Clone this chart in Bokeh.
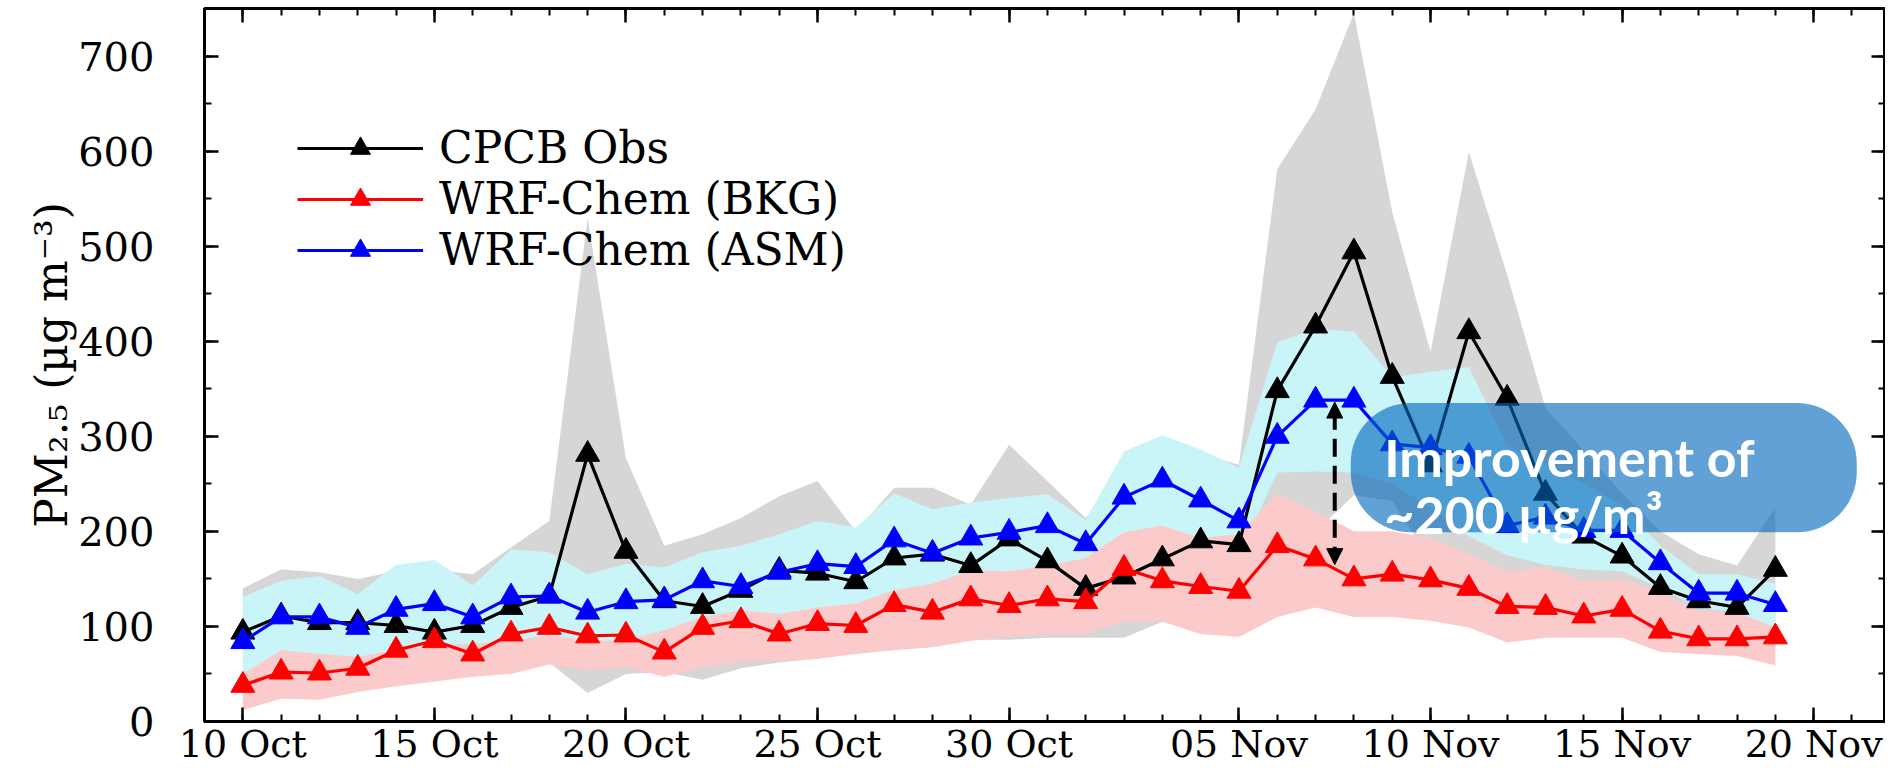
import pandas as pd
from bokeh.plotting import figure
from bokeh.models import (ColumnDataSource, Range1d, LinearAxis, DatetimeAxis, FixedTicker,
                          SingleIntervalTicker, DatetimeTickFormatter, Legend, LegendItem,
                          BoxAnnotation, Label, Arrow, NormalHead, CustomLabelingPolicy)
from bokeh.embed import file_html
from bokeh.resources import INLINE

# ---------------- data (daily, 10 Oct - 19 Nov) ----------------
dates = pd.date_range("2018-10-10", "2018-11-19", freq="D")

obs = [94, 111, 104, 104, 101, 94, 101, 120, 132, 281,
       179, 127, 121, 138, 159, 156, 147, 172, 176, 164,
       192, 169, 140, 152, 171, 190, 186, 348, 416, 494,
       363, 270, 410, 340, 240, 195, 174, 141, 127, 120, 160]
bkg = [38, 52, 51, 56, 75, 85, 71, 92, 99, 90,
       91, 73, 99, 106, 92, 103, 101, 123, 115, 129,
       122, 129, 126, 161, 148, 142, 137, 185, 171, 150,
       155, 149, 140, 121, 120, 111, 118, 95, 87, 87, 89]
asm = [84, 110, 110, 99, 118, 124, 110, 131, 132, 115,
       126, 128, 148, 142, 157, 166, 163, 191, 177, 193,
       199, 206, 187, 236, 254, 233, 211, 300, 338, 338,
       292, 288, 279, 206, 215, 201, 201, 167, 135, 135, 123]

obs_hi = [140, 160, 157, 150, 158, 160, 155, 183, 211, 530,
          277, 185, 197, 214, 237, 253, 200, 246, 246, 228,
          291, 253, 214, 270, 290, 282, 270, 581, 644, 745,
          536, 389, 599, 470, 330, 285, 240, 200, 176, 164, 225]
obs_lo = [20, 28, 30, 33, 40, 42, 48, 55, 62, 30,
          50, 52, 44, 56, 62, 66, 72, 78, 82, 86,
          86, 88, 88, 88, 105, 95, 92, 110, 200, 238,
          232, 170, 160, 150, 145, 140, 135, 125, 110, 100, 90]
asm_hi = [131, 148, 153, 134, 165, 170, 143, 181, 178, 155,
          166, 162, 178, 185, 197, 211, 204, 240, 223, 230,
          235, 239, 212, 284, 301, 286, 267, 399, 413, 410,
          362, 368, 373, 290, 270, 250, 228, 185, 155, 155, 145]
asm_lo = [52, 62, 60, 60, 65, 70, 72, 78, 85, 80,
          78, 85, 95, 100, 100, 108, 112, 125, 132, 145,
          140, 145, 150, 180, 185, 175, 175, 262, 263, 262,
          250, 225, 195, 175, 165, 160, 158, 140, 120, 115, 99]
bkg_hi = [50, 75, 71, 68, 75, 80, 82, 85, 91, 85,
          85, 96, 110, 117, 113, 120, 124, 138, 145, 159,
          158, 164, 172, 199, 206, 193, 197, 239, 221, 200,
          200, 193, 176, 158, 162, 148, 150, 137, 116, 115, 99]
bkg_lo = [12, 24, 23, 31, 37, 42, 47, 50, 60, 54,
          57, 47, 57, 63, 64, 66, 71, 75, 78, 85,
          89, 92, 92, 105, 105, 92, 89, 110, 120, 110,
          110, 106, 99, 83, 88, 88, 88, 73, 71, 69, 59]

series_labels = ["CPCB Obs", "WRF-Chem (BKG)", "WRF-Chem (ASM)"]
major_tick_dates = ["2018-10-10", "2018-10-15", "2018-10-20", "2018-10-25", "2018-10-30",
                    "2018-11-05", "2018-11-10", "2018-11-15", "2018-11-20"]
y_label = "PM\u2082.\u2085 (\u00b5g m\u207b\u00b3)"
note_lines = ["Improvement of", "~200 \u00b5g/m\u00b3"]


def ms(s):
    return pd.Timestamp(s).value / 1e6


src = ColumnDataSource(dict(x=dates, obs=obs, bkg=bkg, asm=asm,
                            obs_hi=obs_hi, obs_lo=obs_lo, asm_hi=asm_hi, asm_lo=asm_lo,
                            bkg_hi=bkg_hi, bkg_lo=bkg_lo))

SERIF = "DejaVu Serif"

p = figure(width=1885, height=768, x_axis_type="datetime", output_backend="svg",
           toolbar_location=None,
           x_range=Range1d(ms("2018-10-09"), ms("2018-11-21 21:00")),
           y_range=Range1d(0, 750),
           min_border_left=204, min_border_right=0, min_border_top=8, min_border_bottom=0)
p.xgrid.visible = False
p.ygrid.visible = False
p.outline_line_color = "black"
p.outline_line_width = 3
p.background_fill_color = "white"

# shaded ranges
p.varea(x="x", y1="obs_lo", y2="obs_hi", source=src, fill_color="#D6D6D6")
p.varea(x="x", y1="asm_lo", y2="asm_hi", source=src, fill_color="#C9F5F9")
p.varea(x="x", y1="bkg_lo", y2="bkg_hi", source=src, fill_color="#FBCBCB")

# lines + triangles
rends = {}
for key, col in [("obs", "black"), ("bkg", "#FF0000"), ("asm", "#0000FF")]:
    ln = p.line(x="x", y=key, source=src, line_color=col, line_width=3.2)
    sc = p.scatter(x="x", y=key, source=src, marker="triangle", size=24,
                   fill_color=col, line_color=col)
    rends[key] = (ln, sc)

# axes styling
major_ms = [ms(d) for d in major_tick_dates]
minor_ms = [ms(d) for d in pd.date_range("2018-10-09", "2018-11-21", freq="D")]
xt = FixedTicker(ticks=major_ms, minor_ticks=minor_ms)
yt = SingleIntervalTicker(interval=100, num_minor_ticks=2)
fmt = DatetimeTickFormatter(days="%d %b", months="%d %b", hours="%d %b", years="%d %b")

p.xaxis.ticker = xt
p.xaxis.formatter = fmt
p.yaxis.ticker = yt


def style(ax, labels=True):
    ax.axis_line_width = 3
    ax.axis_line_color = "black"
    ax.major_tick_in = 14
    ax.major_tick_out = 0
    ax.minor_tick_in = 7
    ax.minor_tick_out = 0
    ax.major_tick_line_width = 2.5
    ax.minor_tick_line_width = 2
    ax.major_tick_line_color = "black"
    ax.minor_tick_line_color = "black"
    if labels:
        ax.major_label_text_font = SERIF
        ax.major_label_text_font_size = "40px"
        ax.major_label_text_color = "black"
    else:
        ax.major_label_text_font_size = "0px"
        ax.major_label_standoff = 0
        ax.major_label_policy = CustomLabelingPolicy(
            code="for (const i of Array.from(indices)) { indices.unset(i) }\nreturn indices")


style(p.xaxis[0])
style(p.yaxis[0])
p.xaxis.major_label_standoff = 0
p.xaxis.major_label_text_font_size = "38px"
p.yaxis.major_label_standoff = 50
p.yaxis.axis_label = y_label
p.yaxis.axis_label_text_font = SERIF
p.yaxis.axis_label_text_font_size = "44px"
p.yaxis.axis_label_text_font_style = "normal"
p.yaxis.axis_label_text_color = "black"
p.yaxis.axis_label_standoff = -2

ra = LinearAxis(ticker=yt)
style(ra, labels=False)
p.add_layout(ra, "right")
ta = DatetimeAxis(ticker=xt, formatter=fmt)
style(ta, labels=False)
p.add_layout(ta, "above")

# legend
legend = Legend(items=[LegendItem(label=series_labels[0], renderers=list(rends["obs"])),
                       LegendItem(label=series_labels[1], renderers=list(rends["bkg"])),
                       LegendItem(label=series_labels[2], renderers=list(rends["asm"]))],
                location=(93, 446), orientation="vertical",
                label_text_font=SERIF, label_text_font_size="44px", label_text_color="black",
                glyph_width=126, glyph_height=50, label_height=50, label_standoff=16,
                padding=0, margin=0, spacing=0,
                border_line_color=None, background_fill_alpha=0)
p.add_layout(legend)

# annotation: dashed double arrow + rounded box with text
arrow_x = ms("2018-11-07 12:00")
p.add_layout(Arrow(x_start=arrow_x, y_start=165, x_end=arrow_x, y_end=336,
                   start=NormalHead(size=16, fill_color="black", line_color="black"),
                   end=NormalHead(size=16, fill_color="black", line_color="black"),
                   line_color="black", line_width=4, line_dash="18 9"))

p.add_layout(BoxAnnotation(left=ms("2018-11-07 22:00"), right=ms("2018-11-21 03:00"),
                           bottom=199, top=335, fill_color="#0068BC", fill_alpha=0.62,
                           line_color=None, border_radius=60))
text_x = ms("2018-11-08 19:00")
p.add_layout(Label(x=text_x, y=278, text=note_lines[0], text_color="white",
                   text_font="Lato", text_font_style="bold", text_font_size="52px",
                   text_baseline="alphabetic"))
p.add_layout(Label(x=text_x, y=218, text=note_lines[1], text_color="white",
                   text_font="Lato", text_font_style="bold", text_font_size="52px",
                   text_baseline="alphabetic"))

open("out.html", "w").write(file_html(p, INLINE))
